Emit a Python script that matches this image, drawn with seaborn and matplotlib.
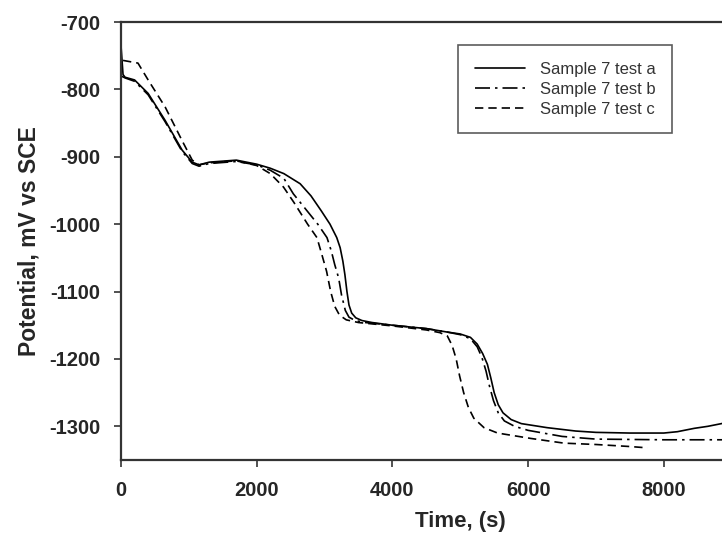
import numpy as np
import pandas as pd
import matplotlib
matplotlib.use("Agg")
import matplotlib.pyplot as plt
import seaborn as sns

# ---- data ----
series_names = ["Sample 7 test a", "Sample 7 test b", "Sample 7 test c"]

t_a = [0, 30, 60, 200, 400, 650, 900, 1050, 1150, 1300, 1700, 2000, 2200, 2400,
       2640, 2800, 2950, 3080, 3180, 3230, 3270, 3300, 3330, 3360, 3400, 3460,
       3550, 3700, 4000, 4500, 4800, 5000, 5150, 5250, 5330, 5400, 5450, 5500,
       5560, 5630, 5750, 5900, 6280, 6700, 7000, 7500, 8000, 8200, 8450, 8650,
       8900]
v_a = [-735, -778, -782, -786, -806, -846, -890, -908, -912, -908, -905, -911,
       -917, -925, -940, -958, -980, -1000, -1020, -1035, -1055, -1075, -1100,
       -1120, -1132, -1139, -1143, -1146, -1150, -1155, -1160, -1163, -1168,
       -1178, -1192, -1208, -1228, -1250, -1268, -1280, -1290, -1296, -1302,
       -1307, -1309, -1310, -1310, -1308, -1303, -1300, -1295]

t_b = [0, 60, 200, 400, 650, 900, 1050, 1150, 1300, 1700, 2000, 2200, 2400,
       2540, 2700, 2900, 3036, 3100, 3150, 3208, 3250, 3306, 3360, 3450, 3600,
       4000, 4500, 4800, 5000, 5150, 5250, 5320, 5380, 5430, 5490, 5560, 5650,
       5800, 6000, 6500, 7000, 8000, 8900]
v_b = [-780, -783, -788, -808, -848, -892, -910, -914, -910, -907, -912,
       -920, -932, -955, -975, -1000, -1020, -1040, -1060, -1080, -1105,
       -1128, -1138, -1143, -1146, -1150, -1155, -1160, -1164, -1170, -1182,
       -1198, -1218, -1240, -1262, -1280, -1292, -1300, -1306, -1315, -1319,
       -1320, -1320]

t_c = [30, 250, 400, 650, 900, 1050, 1150, 1300, 1700, 2000, 2200, 2395, 2550,
       2750, 2888, 2960, 3030, 3090, 3150, 3220, 3320, 3500, 4000, 4500, 4700,
       4810, 4880, 4940, 4990, 5050, 5120, 5200, 5350, 5550, 6040, 6530, 7000,
       7500, 7760]
v_c = [-757, -761, -786, -826, -876, -905, -912, -909, -906, -913, -925, -945,
       -968, -1000, -1020, -1045, -1070, -1100, -1122, -1135, -1142, -1146,
       -1151, -1157, -1161, -1166, -1180, -1200, -1225, -1250, -1272, -1288,
       -1302, -1310, -1318, -1325, -1327, -1330, -1332]

x_ticks = [0, 2000, 4000, 6000, 8000]
y_ticks = [-700, -800, -900, -1000, -1100, -1200, -1300]

df = pd.concat([
    pd.DataFrame({"t": t_a, "v": v_a, "series": series_names[0]}),
    pd.DataFrame({"t": t_b, "v": v_b, "series": series_names[1]}),
    pd.DataFrame({"t": t_c, "v": v_c, "series": series_names[2]}),
], ignore_index=True)

sns.set_style("white")
plt.rcParams["font.family"] = ["Liberation Sans", "DejaVu Sans"]
plt.rcParams["axes.unicode_minus"] = False

W, H = 722, 543
fig = plt.figure(figsize=(W / 100, H / 100), dpi=100)
ax = fig.add_axes([121 / W, 83 / H, 678.5 / W, 438 / H])

dashes = {series_names[0]: "", series_names[1]: (9, 3, 1.5, 3),
          series_names[2]: (5, 3)}
sns.lineplot(data=df, x="t", y="v", style="series", dashes=dashes,
             color="black", sort=False, estimator=None, linewidth=1.2,
             legend=False, ax=ax)

ax.set_xlim(0, 10000)
ax.set_ylim(-1350, -700)
ax.set_xticks(x_ticks)
ax.set_yticks(y_ticks)
ax.set_xticklabels([str(x) for x in x_ticks], fontsize=14.5, fontweight="bold")
ax.set_yticklabels([str(y) for y in y_ticks], fontsize=14.5, fontweight="bold")
ax.set_xlabel("Time, (s)", fontsize=16, fontweight="bold", labelpad=8)
ax.set_ylabel("Potential, mV vs SCE", fontsize=16.5, fontweight="bold", labelpad=6)
ax.tick_params(axis="both", direction="out", length=5, width=1.2,
               color="#333333", pad=10, left=True, bottom=True)
for side in ["left", "bottom", "top"]:
    ax.spines[side].set_color("#333333")
    ax.spines[side].set_linewidth(1.6)
ax.spines["right"].set_visible(False)

handles = ax.get_lines()[:3]
leg = ax.legend(handles, series_names, loc="upper left",
                bbox_to_anchor=(458 / W, 1 - 45 / H), bbox_transform=fig.transFigure,
                fontsize=12, frameon=True, fancybox=False, handlelength=3.0,
                handletextpad=0.9, labelspacing=0.3, borderpad=1.0,
                borderaxespad=0)
leg.get_frame().set_edgecolor("#333333")
leg.get_frame().set_linewidth(1.2)
for txt in leg.get_texts():
    txt.set_color("#333333")

fig.savefig("out.png", dpi=100)
